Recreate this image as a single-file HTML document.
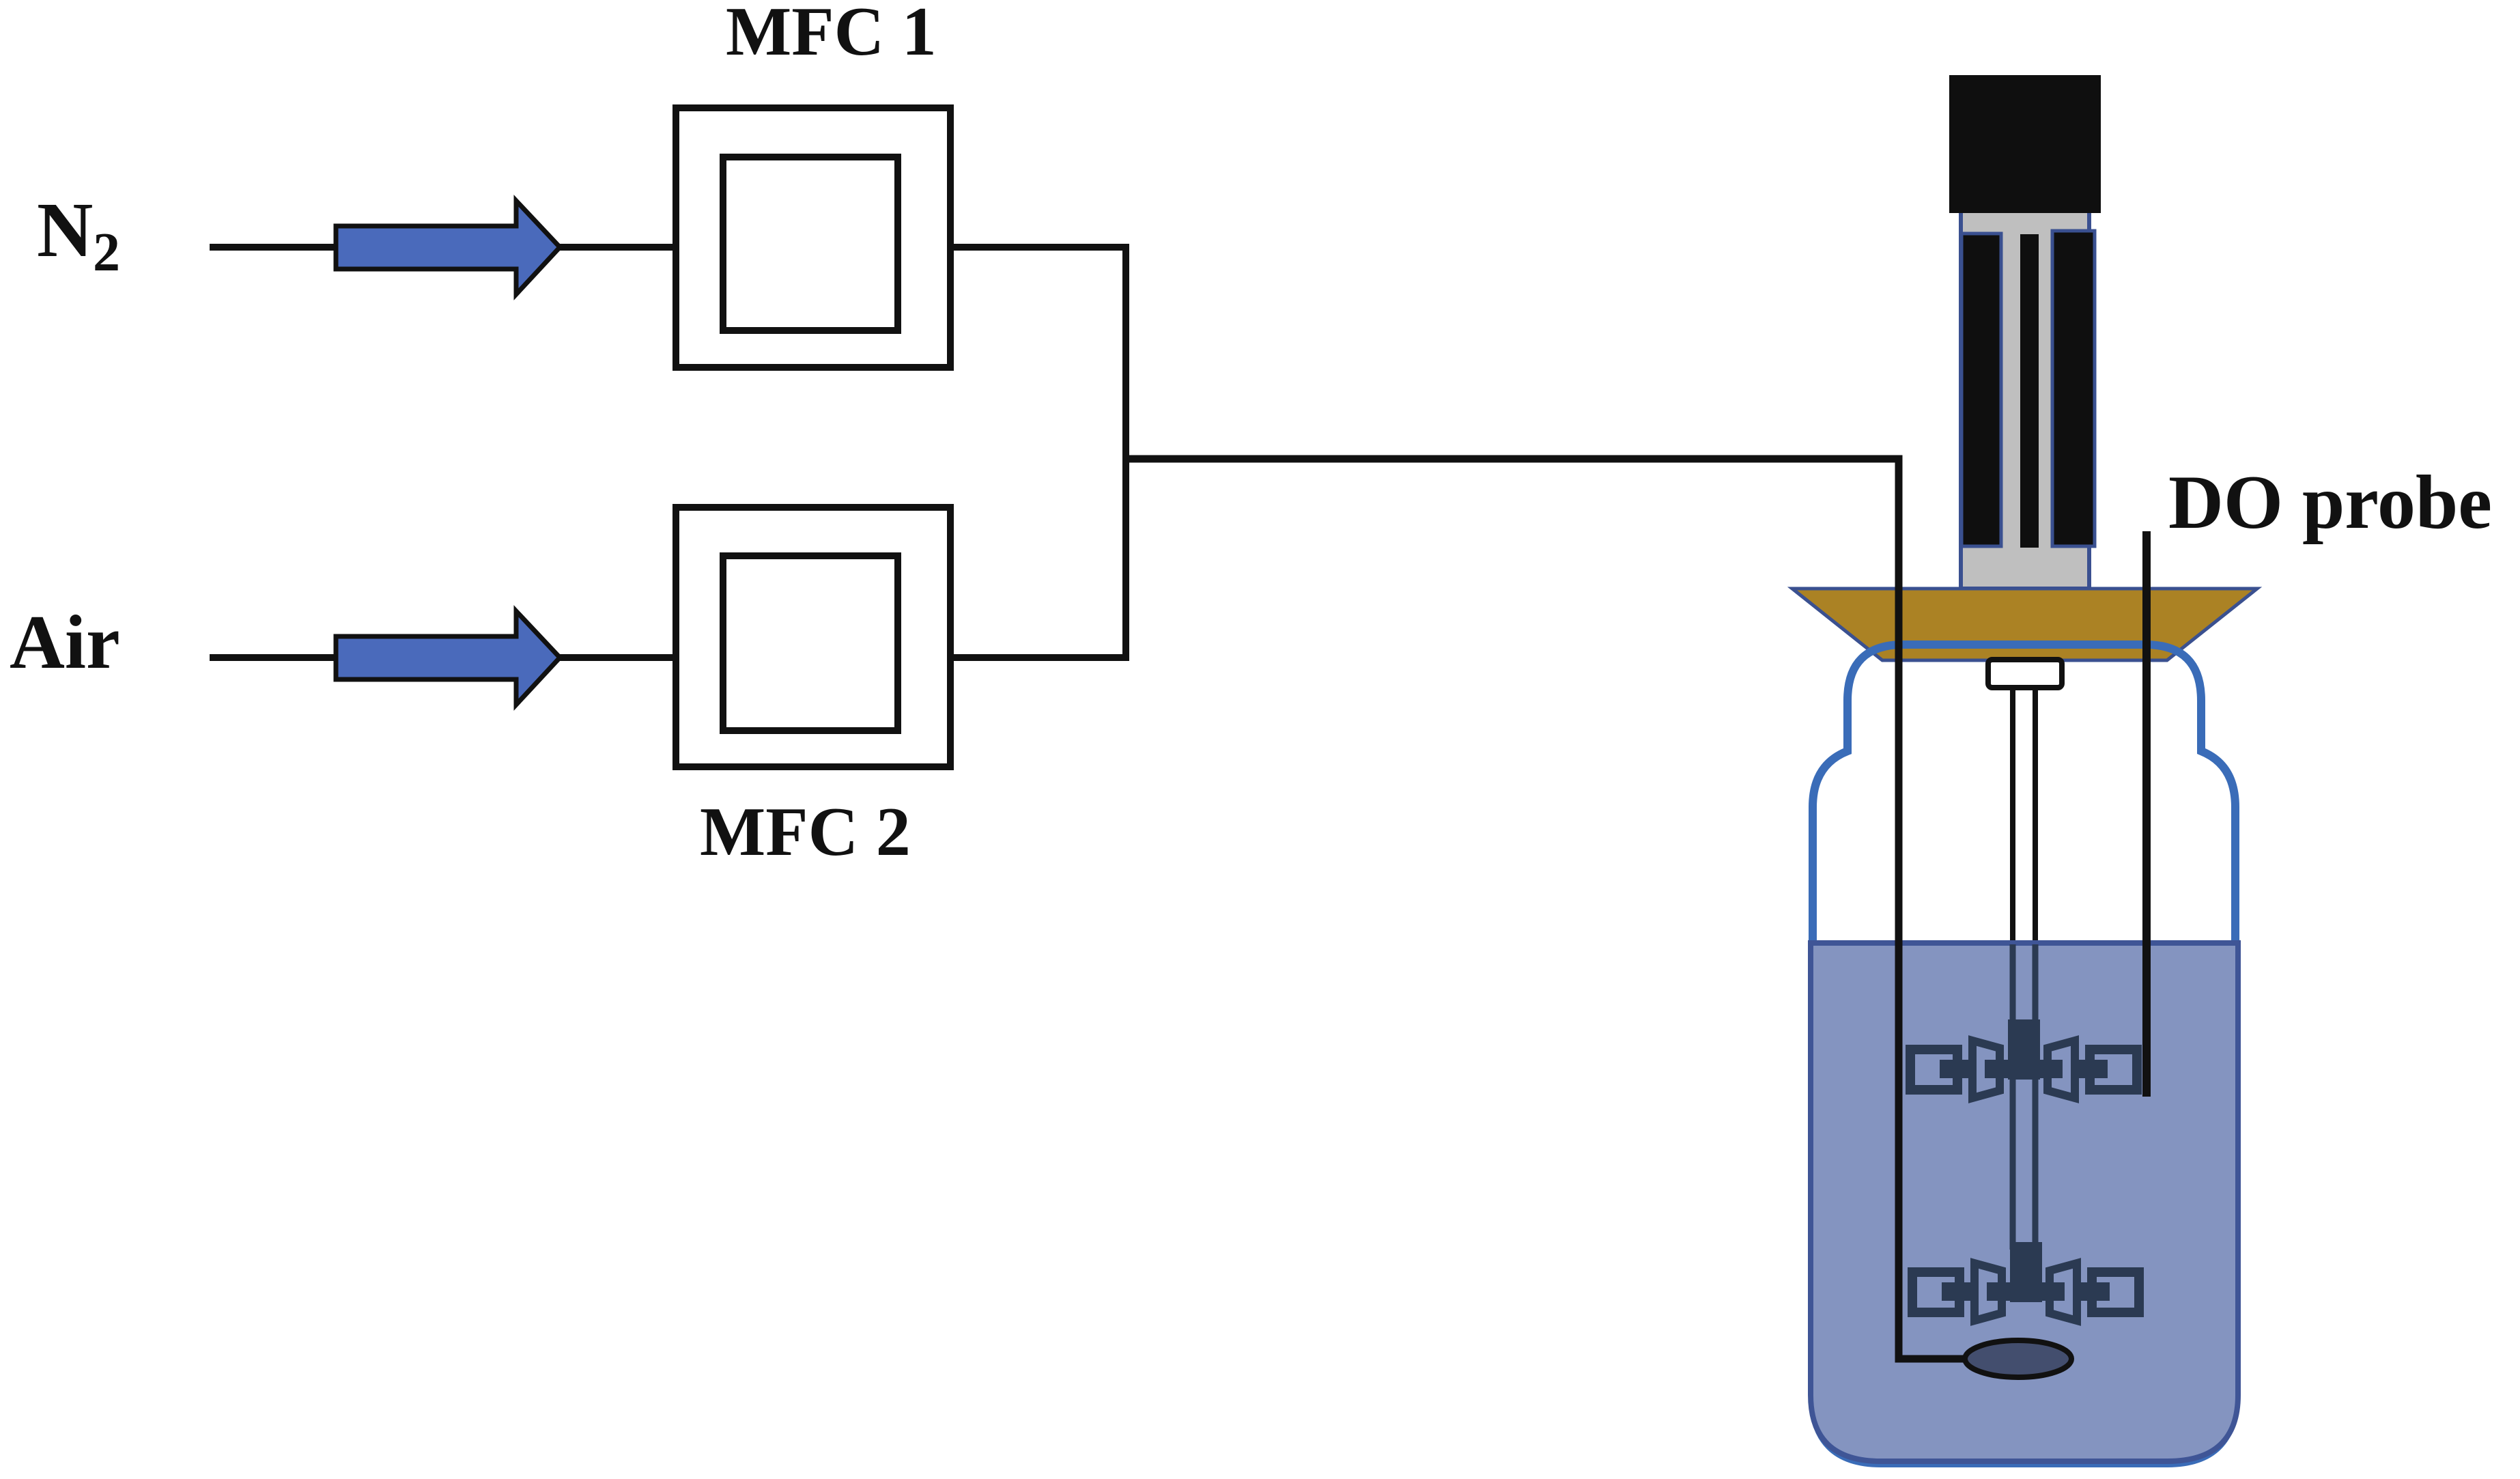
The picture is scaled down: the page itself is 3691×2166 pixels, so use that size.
<!DOCTYPE html>
<html><head><meta charset="utf-8"><style>html,body{margin:0;padding:0;background:#fff}svg{display:block}</style></head><body>
<svg width="3691" height="2166" viewBox="0 0 3691 2166" xmlns="http://www.w3.org/2000/svg">
<defs>
<g id="half">
<rect x="-166" y="-29" width="69" height="59" fill="none" stroke="#2b3a52" stroke-width="14"/>
<rect x="-123" y="-14" width="42" height="27" fill="#2b3a52"/>
<polygon points="-75,-42 -35,-31 -35,31 -75,42" fill="none" stroke="#2b3a52" stroke-width="12"/>
<rect x="-57" y="-14" width="34" height="27" fill="#2b3a52"/>
</g>
<g id="imp">
<use href="#half"/>
<use href="#half" transform="scale(-1,1)"/>
<rect x="-23" y="-73" width="47" height="88" fill="#2b3a52"/>
</g>
</defs>
<g font-family="'Liberation Serif', serif" font-weight="bold" fill="#111">
<text x="1063" y="80" font-size="102">MFC 1</text>
<text x="1025" y="1252" font-size="102">MFC 2</text>
<text x="54" y="375" font-size="114">N</text>
<text x="136" y="396" font-size="80">2</text>
<text x="14" y="978" font-size="112">Air</text>
<text x="3176" y="773" font-size="112">DO probe</text>
</g>
<g stroke="#111" stroke-width="10" fill="none">
<line x1="307" y1="362" x2="985" y2="362"/>
<line x1="307" y1="963" x2="985" y2="963"/>
<rect x="990" y="158" width="402" height="380"/>
<rect x="1059" y="230" width="256" height="254"/>
<rect x="990" y="743" width="402" height="380"/>
<rect x="1059" y="814" width="256" height="256"/>
<polyline points="1397,362 1649,362 1649,963 1397,963"/>
</g>
<g fill="#4a6abb" stroke="#111" stroke-width="7">
<polygon points="492,331 756,331 756,294 820,362 756,431 756,394 492,394"/>
<polygon points="492,932 756,932 756,895 820,963 756,1032 756,995 492,995"/>
</g>
<!-- probe column -->
<rect x="2872" y="300" width="188" height="562" fill="#bfbfbf" stroke="#3a5090" stroke-width="6"/>
<rect x="2873" y="342" width="58" height="458" fill="#0f0f0f" stroke="#3a5090" stroke-width="5"/>
<rect x="3006" y="338" width="62" height="462" fill="#0f0f0f" stroke="#3a5090" stroke-width="5"/>
<rect x="2959" y="343" width="27" height="459" fill="#0f0f0f"/>
<rect x="2855" y="110" width="222" height="202" fill="#0f0f0f"/>
<!-- lid -->
<polygon points="2625,862 3306,862 3174,967 2757,967" fill="#ab8224" stroke="#3a5090" stroke-width="5"/>
<!-- bottle -->
<path d="M2706,1100 L2706,1026 Q2706,944 2788,944 L3142,944 Q3224,944 3224,1026 L3224,1100 Q3274,1120 3274,1182 L3274,2043 Q3274,2143 3174,2143 L2755,2143 Q2655,2143 2655,2043 L2655,1182 Q2655,1120 2706,1100 Z" fill="none" stroke="#3a6cb8" stroke-width="12"/>
<!-- shaft above liquid -->
<rect x="2912" y="966" width="108" height="41" rx="6" fill="#fff" stroke="#111" stroke-width="8"/>
<line x1="2948" y1="1007" x2="2948" y2="1382" stroke="#111" stroke-width="8"/>
<line x1="2981" y1="1007" x2="2981" y2="1382" stroke="#111" stroke-width="8"/>
<!-- liquid -->
<path d="M2652,1381 L3278,1381 L3278,2043 Q3278,2140 3174,2140 L2755,2140 Q2652,2140 2652,2043 Z" fill="#8494c0" stroke="#3f5596" stroke-width="8"/>
<line x1="2948" y1="1383" x2="2948" y2="1830" stroke="#2b3a52" stroke-width="9"/>
<line x1="2981" y1="1383" x2="2981" y2="1830" stroke="#2b3a52" stroke-width="9"/>
<use href="#imp" transform="translate(2964,1566)"/>
<use href="#imp" transform="translate(2967,1892)"/>
<!-- gas line -->
<polyline points="1649,672 2781,672 2781,1990 2880,1990" fill="none" stroke="#111" stroke-width="11"/>
<ellipse cx="2956" cy="1990" rx="78" ry="27" fill="#434e6e" stroke="#111" stroke-width="8"/>
<!-- DO probe -->
<line x1="3144" y1="778" x2="3144" y2="1606" stroke="#111" stroke-width="12"/>
</svg>
</body></html>
